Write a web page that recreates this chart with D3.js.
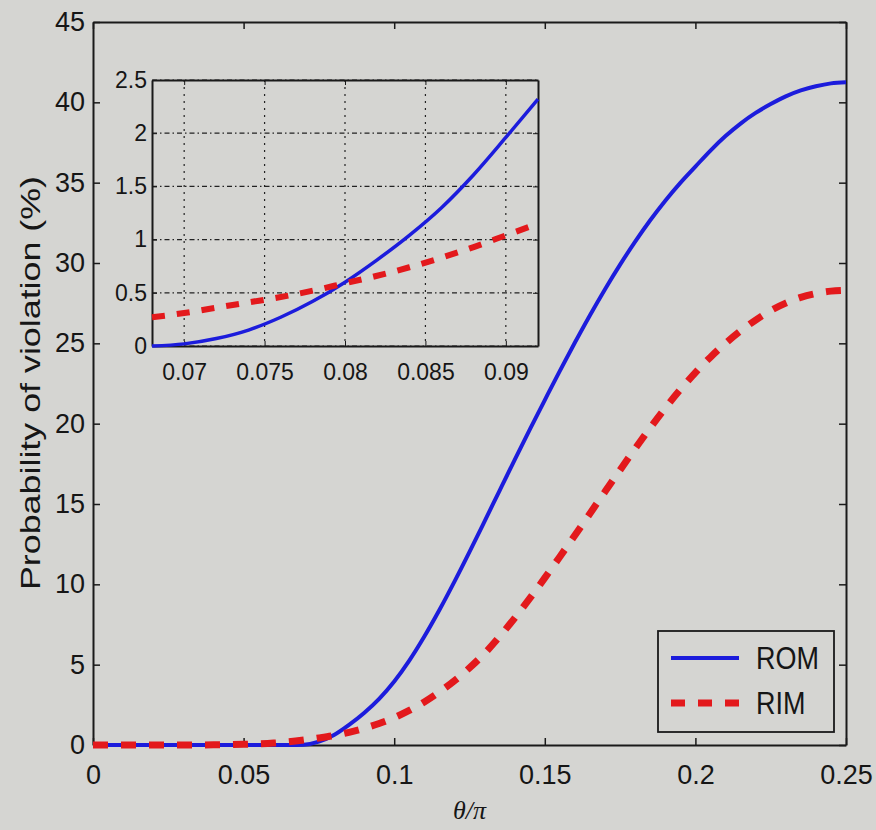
<!DOCTYPE html>
<html>
<head>
<meta charset="utf-8">
<title>Probability of violation</title>
<style>
  body { margin: 0; background: #d5d5d2; }
  svg { display: block; }
  text { font-family: "Liberation Sans", Arial, sans-serif; fill: #161616; }
  .axis path, .axis line { stroke: #1a1a1a; }
</style>
</head>
<body>
<script src="https://d3js.org/d3.v7.min.js"></script>
<script>

// main curve samples (theta/pi, probability in %)
var theta = [0, 0.01, 0.02, 0.03, 0.04, 0.05, 0.06, 0.065, 0.07, 0.075, 0.08, 0.085, 0.09, 0.095,
             0.1, 0.105, 0.11, 0.115, 0.12, 0.125, 0.13, 0.135, 0.14, 0.145, 0.15, 0.155, 0.16,
             0.165, 0.17, 0.175, 0.18, 0.185, 0.19, 0.195, 0.2, 0.205, 0.21, 0.215, 0.22, 0.225,
             0.23, 0.235, 0.24, 0.245, 0.25];
var rom = [0, 0, 0, 0, 0, 0, 0, 0, 0.02, 0.21, 0.62, 1.25, 1.99, 2.87,
           3.95, 5.25, 6.75, 8.4, 10.17, 12.02, 13.92, 15.84, 17.75, 19.63, 21.47, 23.29, 25.05,
           26.75, 28.37, 29.9, 31.33, 32.66, 33.88, 34.99, 36.0, 37.0, 37.9, 38.68, 39.34, 39.89,
           40.37, 40.74, 41.0, 41.18, 41.25];
var rim = [0, 0, 0, 0, 0.01, 0.04, 0.12, 0.2, 0.31, 0.44, 0.59, 0.79, 1.04, 1.34,
           1.7, 2.15, 2.68, 3.3, 4.0, 4.8, 5.7, 6.75, 7.9, 9.12, 10.4, 11.72, 13.06,
           14.41, 15.77, 17.12, 18.45, 19.74, 20.97, 22.12, 23.18, 24.14, 25.0, 25.77, 26.45, 27.04,
           27.5, 27.86, 28.1, 28.25, 28.3];

// zoomed inset samples
var insetTheta = [0.068, 0.07, 0.072, 0.074, 0.076, 0.078, 0.08, 0.082, 0.084, 0.086, 0.088, 0.09, 0.092];
var insetRom = [0, 0.02, 0.07, 0.15, 0.27, 0.42, 0.6, 0.81, 1.04, 1.3, 1.61, 1.96, 2.32];
var insetRim = [0.27, 0.31, 0.36, 0.41, 0.46, 0.52, 0.59, 0.66, 0.74, 0.83, 0.93, 1.04, 1.15];

var mainXTicks = [0, 0.05, 0.1, 0.15, 0.2, 0.25];
var mainYTicks = [0, 5, 10, 15, 20, 25, 30, 35, 40, 45];
var insetXTicks = [0.07, 0.075, 0.08, 0.085, 0.09];
var insetYTicks = [0, 0.5, 1, 1.5, 2, 2.5];

var seriesNames = ["ROM", "RIM"];
var seriesColors = ["#1c1cdc", "#e3191c"];

var margin = {top: 22, right: 30, bottom: 85, left: 93},
    width = 876 - margin.left - margin.right,
    height = 830 - margin.top - margin.bottom;

var svg = d3.select("body").append("svg")
    .attr("width", 876)
    .attr("height", 830);

var main = svg.append("g")
    .attr("transform", "translate(" + margin.left + "," + margin.top + ")");

var x = d3.scaleLinear().domain([0, 0.25]).range([0, width]);
var y = d3.scaleLinear().domain([0, 45]).range([height, 0]);
var fmt = function(d) { return String(d); };

main.append("rect")
    .attr("width", width).attr("height", height)
    .attr("fill", "#d5d5d2");

// axes: ticks point inward on all four sides, like matlab
main.append("g").attr("class", "axis")
    .attr("transform", "translate(0," + height + ")")
    .call(d3.axisBottom(x).tickValues(mainXTicks).tickFormat(fmt).tickSize(-7).tickSizeOuter(0).tickPadding(20));
main.append("g").attr("class", "axis")
    .call(d3.axisLeft(y).tickValues(mainYTicks).tickFormat(fmt).tickSize(-7).tickSizeOuter(0).tickPadding(8));
main.append("g").attr("class", "axis")
    .call(d3.axisTop(x).tickValues(mainXTicks).tickFormat("").tickSize(-7).tickSizeOuter(0));
main.append("g").attr("class", "axis")
    .attr("transform", "translate(" + width + ",0)")
    .call(d3.axisRight(y).tickValues(mainYTicks).tickFormat("").tickSize(-7).tickSizeOuter(0));

main.selectAll(".axis path").attr("stroke-width", 2);
main.selectAll(".axis line").attr("stroke-width", 1.5);
main.selectAll(".axis text").style("font-size", "27px").attr("fill", "#161616");

var line = d3.line()
    .x(function(d) { return x(d[0]); })
    .y(function(d) { return y(d[1]); })
    .curve(d3.curveMonotoneX);

main.append("path")
    .datum(d3.zip(theta, rom))
    .attr("d", line)
    .attr("fill", "none")
    .attr("stroke", seriesColors[0])
    .attr("stroke-width", 4);

main.append("path")
    .datum(d3.zip(theta, rim))
    .attr("d", line)
    .attr("fill", "none")
    .attr("stroke", seriesColors[1])
    .attr("stroke-width", 7)
    .attr("stroke-dasharray", "15,13");

// y label
svg.append("g")
    .attr("transform", "translate(30,383) scale(1,1.28)")
  .append("text")
    .attr("transform", "rotate(-90)")
    .attr("text-anchor", "middle")
    .attr("dy", "0.35em")
    .style("font-size", "28px")
    .text("Probability of violation (%)");

// x label
svg.append("text")
    .attr("x", margin.left + width / 2)
    .attr("y", 819)
    .attr("text-anchor", "middle")
    .style("font-family", "'Liberation Serif', 'Times New Roman', serif")
    .style("font-style", "italic")
    .style("font-size", "26px")
    .text("\u03b8/\u03c0");

// inset
var inset = {left: 152, top: 80, width: 386, height: 266};
var ig = svg.append("g")
    .attr("transform", "translate(" + inset.left + "," + inset.top + ")");

var ix = d3.scaleLinear().domain([0.068, 0.092]).range([0, inset.width]);
var iy = d3.scaleLinear().domain([0, 2.5]).range([inset.height, 0]);

ig.append("rect")
    .attr("width", inset.width).attr("height", inset.height)
    .attr("fill", "#d5d5d2");

ig.selectAll(".vgrid")
    .data(insetXTicks)
    .enter().append("line")
    .attr("class", "vgrid")
    .attr("x1", ix).attr("x2", ix)
    .attr("y1", 0).attr("y2", inset.height)
    .attr("stroke", "#222")
    .attr("stroke-width", 1.2)
    .attr("stroke-dasharray", "2,5");

ig.selectAll(".hgrid")
    .data(insetYTicks)
    .enter().append("line")
    .attr("class", "hgrid")
    .attr("x1", 0).attr("x2", inset.width)
    .attr("y1", iy).attr("y2", iy)
    .attr("stroke", "#222")
    .attr("stroke-width", 1.2)
    .attr("stroke-dasharray", "5,3,1.5,3");

ig.append("g").attr("class", "axis")
    .attr("transform", "translate(0," + inset.height + ")")
    .call(d3.axisBottom(ix).tickValues(insetXTicks).tickFormat(fmt).tickSize(-5).tickSizeOuter(0).tickPadding(18));
ig.append("g").attr("class", "axis")
    .call(d3.axisLeft(iy).tickValues(insetYTicks).tickFormat(fmt).tickSize(-5).tickSizeOuter(0).tickPadding(5));
ig.append("g").attr("class", "axis")
    .call(d3.axisTop(ix).tickValues(insetXTicks).tickFormat("").tickSize(-5).tickSizeOuter(0));
ig.append("g").attr("class", "axis")
    .attr("transform", "translate(" + inset.width + ",0)")
    .call(d3.axisRight(iy).tickValues(insetYTicks).tickFormat("").tickSize(-5).tickSizeOuter(0));

ig.selectAll(".axis path").attr("stroke-width", 2);
ig.selectAll(".axis text").style("font-size", "23px").attr("fill", "#303030");

var iline = d3.line()
    .x(function(d) { return ix(d[0]); })
    .y(function(d) { return iy(d[1]); })
    .curve(d3.curveMonotoneX);

ig.append("path")
    .datum(d3.zip(insetTheta, insetRom))
    .attr("d", iline)
    .attr("fill", "none")
    .attr("stroke", seriesColors[0])
    .attr("stroke-width", 3.5);

ig.append("path")
    .datum(d3.zip(insetTheta, insetRim))
    .attr("d", iline)
    .attr("fill", "none")
    .attr("stroke", seriesColors[1])
    .attr("stroke-width", 6)
    .attr("stroke-dasharray", "13,12");

// legend
var legend = svg.append("g").attr("transform", "translate(658,631)");
legend.append("rect")
    .attr("width", 176).attr("height", 101)
    .attr("fill", "#d5d5d2")
    .attr("stroke", "#1a1a1a")
    .attr("stroke-width", 1.8);

var item = legend.selectAll(".item")
    .data(seriesNames)
    .enter().append("g")
    .attr("class", "item")
    .attr("transform", function(d, i) { return "translate(0," + (27 + i * 45) + ")"; });

item.append("line")
    .attr("x1", 13).attr("x2", 81)
    .attr("stroke", function(d, i) { return seriesColors[i]; })
    .attr("stroke-width", function(d, i) { return i === 0 ? 4 : 7; })
    .attr("stroke-dasharray", function(d, i) { return i === 0 ? null : "14,13"; });

item.append("g")
    .attr("transform", "translate(98,0) scale(1,1.15)")
  .append("text")
    .attr("dy", "0.36em")
    .style("font-size", "27px")
    .text(function(d) { return d; });

</script>
</body>
</html>
